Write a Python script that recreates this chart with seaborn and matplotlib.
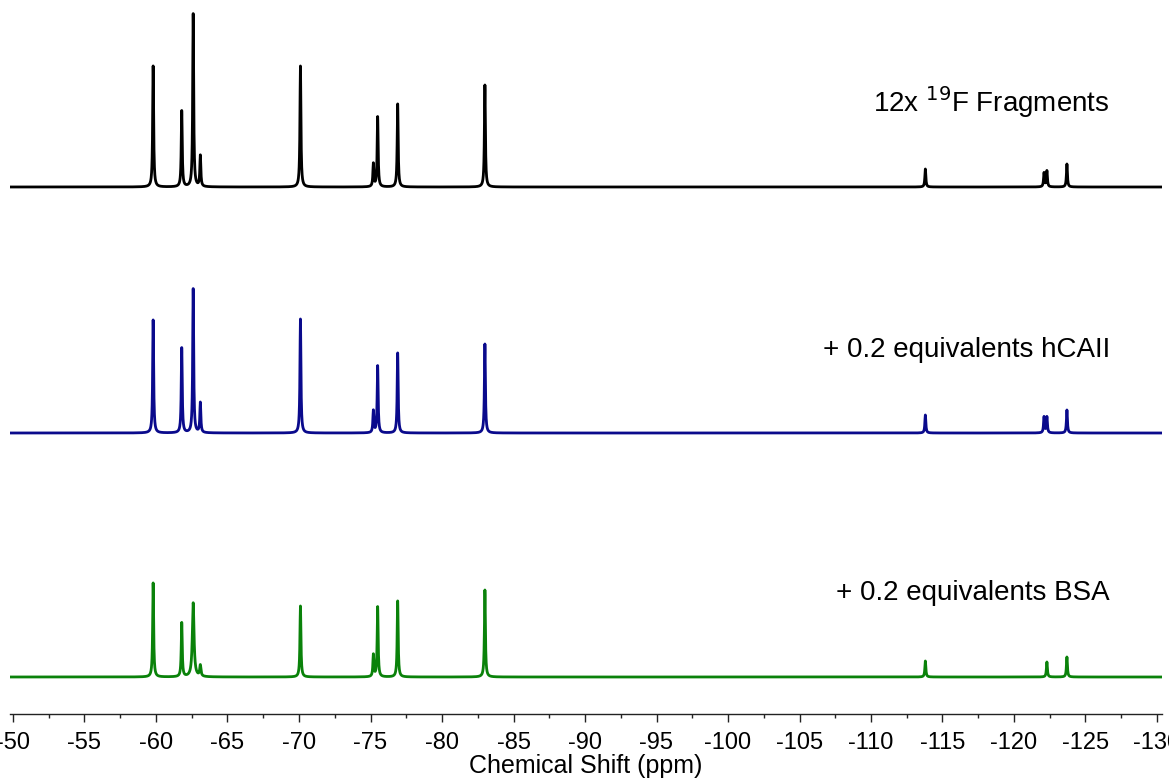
import numpy as np
import pandas as pd
import matplotlib
matplotlib.use("Agg")
import matplotlib.pyplot as plt
import seaborn as sns
from matplotlib.ticker import MultipleLocator

sns.set_style("white")
plt.rcParams['font.family'] = ['Liberation Sans', 'DejaVu Sans']
plt.rcParams['text.color'] = 'black'
plt.rcParams['axes.labelcolor'] = 'black'

# Peak positions (ppm)
peak_ppm = [-59.8, -61.8, -62.6, -63.1, -70.1, -75.2, -75.5, -76.9, -83.0,
            -113.8, -122.1, -122.3, -123.7]
# Peak heights (arbitrary units) per spectrum
h_fragments = [121, 76, 173, 31, 121, 23, 70, 83, 102, 18, 14, 16, 23]
h_hcaii     = [113, 85, 144, 30, 114, 22, 67, 80, 89, 18, 16, 16, 23]
h_bsa       = [94, 54, 74, 11, 71, 22, 70, 76, 87, 16, 0, 15, 20]
# Line half-widths (ppm)
w_fragments = [0.04] * 13
w_hcaii     = [0.04] * 13
w_bsa       = [0.04, 0.04, 0.07, 0.05, 0.04, 0.04, 0.04, 0.04, 0.04, 0.04, 0.04, 0.04, 0.04]

labels = ["12x $^{19}$F Fragments", "+ 0.2 equivalents hCAII", "+ 0.2 equivalents BSA"]
offsets = [527, 281, 37]
colors = ["#000000", "#0a0a8c", "#0a820a"]

x = np.arange(-49.5, -130.6, -0.01)

frames = []
for name, hs, ws, off in zip(labels, [h_fragments, h_hcaii, h_bsa],
                              [w_fragments, w_hcaii, w_bsa], offsets):
    y = np.zeros_like(x)
    for p, h, w in zip(peak_ppm, hs, ws):
        y += h * w**2 / ((x - p)**2 + w**2)
    frames.append(pd.DataFrame({"ppm": x, "intensity": y + off, "spectrum": name}))
df = pd.concat(frames, ignore_index=True)

W, H = 1169, 780
fig = plt.figure(figsize=(W/100, H/100), dpi=100)
ax = fig.add_axes([10/W, 1 - 714/H, (1162-10)/W, 714/H])

sns.lineplot(data=df, x="ppm", y="intensity", hue="spectrum", palette=colors,
             hue_order=labels, linewidth=2.0, legend=False, ax=ax, sort=False,
             estimator=None)

ppx = 1144/80
ax.set_xlim(-50 + 3/ppx, -130 - 5/ppx)
ax.set_ylim(0, 714)
ax.xaxis.set_minor_locator(MultipleLocator(2.5))
ax.set_xticks(np.arange(-50, -131, -5))
ax.set_xticklabels([str(int(v)) for v in np.arange(-50, -131, -5)])
ax.tick_params(axis='x', which='major', direction='out', length=6, width=1,
               labelsize=17, pad=7, bottom=True, colors='#222222', labelcolor='black')
ax.tick_params(axis='x', which='minor', direction='out', length=3, width=1,
               bottom=True, colors='#222222')
ax.set_yticks([])
ax.set_ylabel("")
ax.set_xlabel("Chemical Shift (ppm)", fontsize=18, labelpad=0)
for s in ["top", "right", "left"]:
    ax.spines[s].set_visible(False)
ax.spines["bottom"].set_color("#222222")
ax.spines["bottom"].set_linewidth(1)
ax.patch.set_alpha(0)

label_y = [102, 350, 593]
for lab, ly in zip(labels, label_y):
    fig.text(1110/W, 1 - ly/H, lab, ha='right', va='center', fontsize=20)

fig.savefig("out.png", dpi=100)
